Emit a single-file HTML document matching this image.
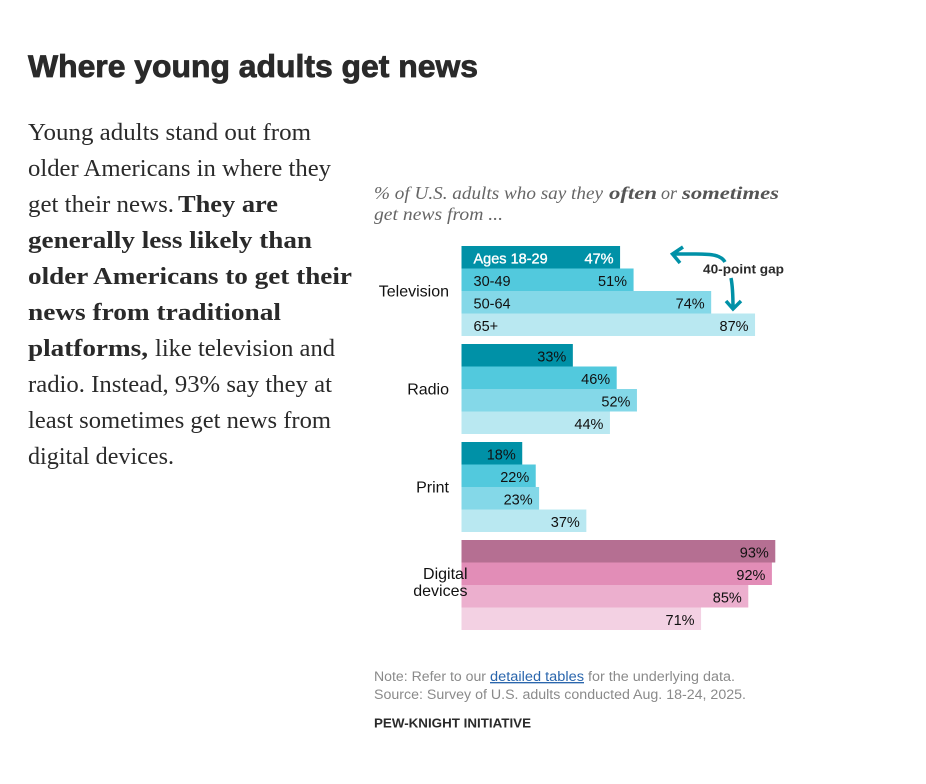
<!DOCTYPE html>
<html lang="en">
<head>
<meta charset="utf-8">
<title>Where young adults get news</title>
<style>
html,body{margin:0;padding:0;background:#fff;width:926px;height:784px;overflow:hidden}
svg{display:block}
.title{font:bold 31.5px "Liberation Sans",sans-serif;fill:#2a2a2a;stroke:#2a2a2a;stroke-width:.8px}
.body{font:24.5px "Liberation Serif",serif;fill:#2a2a2a}
.bold{font-weight:bold;fill:#2a2a2a}
.sub{font:italic 18px "Liberation Serif",serif;fill:#666}
.subb{font-weight:bold;fill:#555}
.foot{font:13.5px "Liberation Sans",sans-serif;fill:#8a8a8a}
.link{fill:#2a66ad;text-decoration:underline}
.brand{font:bold 13px "Liberation Sans",sans-serif;fill:#2a2a2a}
.cat{font:16px "Liberation Sans",sans-serif;fill:#111}
.val{font:14.5px "Liberation Sans",sans-serif;fill:#111}
.note{font:bold 13px "Liberation Sans",sans-serif;fill:#2a2a2a}
</style>
</head>
<body>
<svg id="page" width="926" height="784" viewBox="0 0 926 784" xmlns="http://www.w3.org/2000/svg">
  <text class="title" x="28" y="77" textLength="450" lengthAdjust="spacingAndGlyphs">Where young adults get news</text>

  <g>
    <text class="body" x="28" y="140" textLength="283" lengthAdjust="spacingAndGlyphs">Young adults stand out from</text>
    <text class="body" x="28" y="176" textLength="303" lengthAdjust="spacingAndGlyphs">older Americans in where they</text>
    <text class="body" x="28" y="212" textLength="146" lengthAdjust="spacingAndGlyphs">get their news.</text>
    <text class="body bold" x="178" y="212" textLength="100" lengthAdjust="spacingAndGlyphs">They are</text>
    <text class="body bold" x="28" y="248" textLength="284" lengthAdjust="spacingAndGlyphs">generally less likely than</text>
    <text class="body bold" x="28" y="284" textLength="324" lengthAdjust="spacingAndGlyphs">older Americans to get their</text>
    <text class="body bold" x="28" y="320" textLength="253" lengthAdjust="spacingAndGlyphs">news from traditional</text>
    <text class="body bold" x="28" y="356" textLength="120" lengthAdjust="spacingAndGlyphs">platforms,</text>
    <text class="body" x="155" y="356" textLength="180" lengthAdjust="spacingAndGlyphs">like television and</text>
    <text class="body" x="28" y="392" textLength="304" lengthAdjust="spacingAndGlyphs">radio. Instead, 93% say they at</text>
    <text class="body" x="28" y="428" textLength="303" lengthAdjust="spacingAndGlyphs">least sometimes get news from</text>
    <text class="body" x="28" y="464" textLength="146" lengthAdjust="spacingAndGlyphs">digital devices.</text>
  </g>

  <g>
    <text class="sub" x="374" y="199" textLength="229" lengthAdjust="spacingAndGlyphs">% of U.S. adults who say they</text>
    <text class="sub subb" x="609" y="199" textLength="48" lengthAdjust="spacingAndGlyphs">often</text>
    <text class="sub" x="661" y="199" textLength="16" lengthAdjust="spacingAndGlyphs">or</text>
    <text class="sub subb" x="682" y="199" textLength="97" lengthAdjust="spacingAndGlyphs">sometimes</text>
    <text class="sub" x="374" y="220" textLength="129" lengthAdjust="spacingAndGlyphs">get news from ...</text>
  </g>

  <g id="chart"></g>

  <g>
    <path d="M725 262C721 255 712 254 696 254L673 254M683 247L672.5 254L680 263" fill="none" stroke="#0091a7" stroke-width="3.5"/>
    <path d="M731 278C733 288 733 298 733 308M726 301L733 309L741 301" fill="none" stroke="#0091a7" stroke-width="3.5"/>
    <text class="note" x="703" y="273.5" textLength="81" lengthAdjust="spacingAndGlyphs">40-point gap</text>
  </g>

  <g>
    <text class="foot" x="374" y="681" textLength="112" lengthAdjust="spacingAndGlyphs">Note: Refer to our</text>
    <a href="#"><text class="foot link" x="490" y="681" textLength="94" lengthAdjust="spacingAndGlyphs">detailed tables</text></a>
    <text class="foot" x="588" y="681" textLength="147" lengthAdjust="spacingAndGlyphs">for the underlying data.</text>
    <text class="foot" x="374" y="699" textLength="372" lengthAdjust="spacingAndGlyphs">Source: Survey of U.S. adults conducted Aug. 18-24, 2025.</text>
    <text class="brand" x="374" y="727.5" textLength="157" lengthAdjust="spacingAndGlyphs">PEW-KNIGHT INITIATIVE</text>
  </g>
</svg>
<script>
const categories = ["Television", "Radio", "Print", "Digital devices"];
const ageGroups = ["Ages 18-29", "30-49", "50-64", "65+"];
const television = [47, 51, 74, 87];
const radio = [33, 46, 52, 44];
const print = [18, 22, 23, 37];
const digital = [93, 92, 85, 71];
const series = [television, radio, print, digital];
const tealShades = ["#0091a7", "#52c9dd", "#84d8e8", "#b9e8f1"];
const pinkShades = ["#b56f92", "#e28db7", "#ecafce", "#f3d1e3"];

const SVG_NS = "http://www.w3.org/2000/svg";
const X0 = 461.5, PX_PER_POINT = 3.374;
const TOP = 246, GROUP_STEP = 98, ROW_H = 22.5;
const xScale = v => X0 + v * PX_PER_POINT;
const groupY = g => TOP + g * GROUP_STEP;
const rowY = (g, r) => groupY(g) + r * ROW_H;
const chart = document.getElementById("chart");

function makeText(cls, x, y, anchor, content, fill) {
  const t = document.createElementNS(SVG_NS, "text");
  t.setAttribute("class", cls);
  t.setAttribute("x", x);
  t.setAttribute("y", y);
  t.setAttribute("text-anchor", anchor);
  if (fill) {
    t.style.fill = fill;
    t.style.stroke = fill;
    t.style.strokeWidth = "0.35px";
  }
  t.textContent = content;
  return t;
}

series.forEach((values, g) => {
  const shades = g === 3 ? pinkShades : tealShades;
  values.forEach((v, r) => {
    const rect = document.createElementNS(SVG_NS, "rect");
    rect.setAttribute("x", X0);
    rect.setAttribute("y", rowY(g, r));
    rect.setAttribute("width", xScale(v) - X0);
    rect.setAttribute("height", ROW_H);
    rect.setAttribute("fill", shades[r]);
    
    
    chart.appendChild(rect);
  });
});

series.forEach((values, g) => {
  values.forEach((v, r) => {
    const isWhite = g === 0 && r === 0;
    const baseline = rowY(g, r) + ROW_H - 5;
    const label = makeText("val", xScale(v) - 6.5, baseline, "end", v + "%", isWhite ? "#fff" : null);
    
    
    chart.appendChild(label);
  });
});

ageGroups.forEach((name, r) => {
  const isWhite = r === 0;
  const label = makeText("val", 473.5, rowY(0, r) + ROW_H - 5, "start", name, isWhite ? "#fff" : null);
  
  
  chart.appendChild(label);
});

categories.forEach((name, g) => {
  const mid = groupY(g) + 2 * ROW_H;
  if (name === "Digital devices") {
    name.split(" ").forEach((word, i) => {
      const line = makeText("cat", X0 + 6, mid - 6 + i * 17, "end", word);
      
      
      chart.appendChild(line);
    });
  } else {
    const label = makeText("cat", 449, mid + 5.5, "end", name);
    
    
    chart.appendChild(label);
  }
});
</script>
</body>
</html>
